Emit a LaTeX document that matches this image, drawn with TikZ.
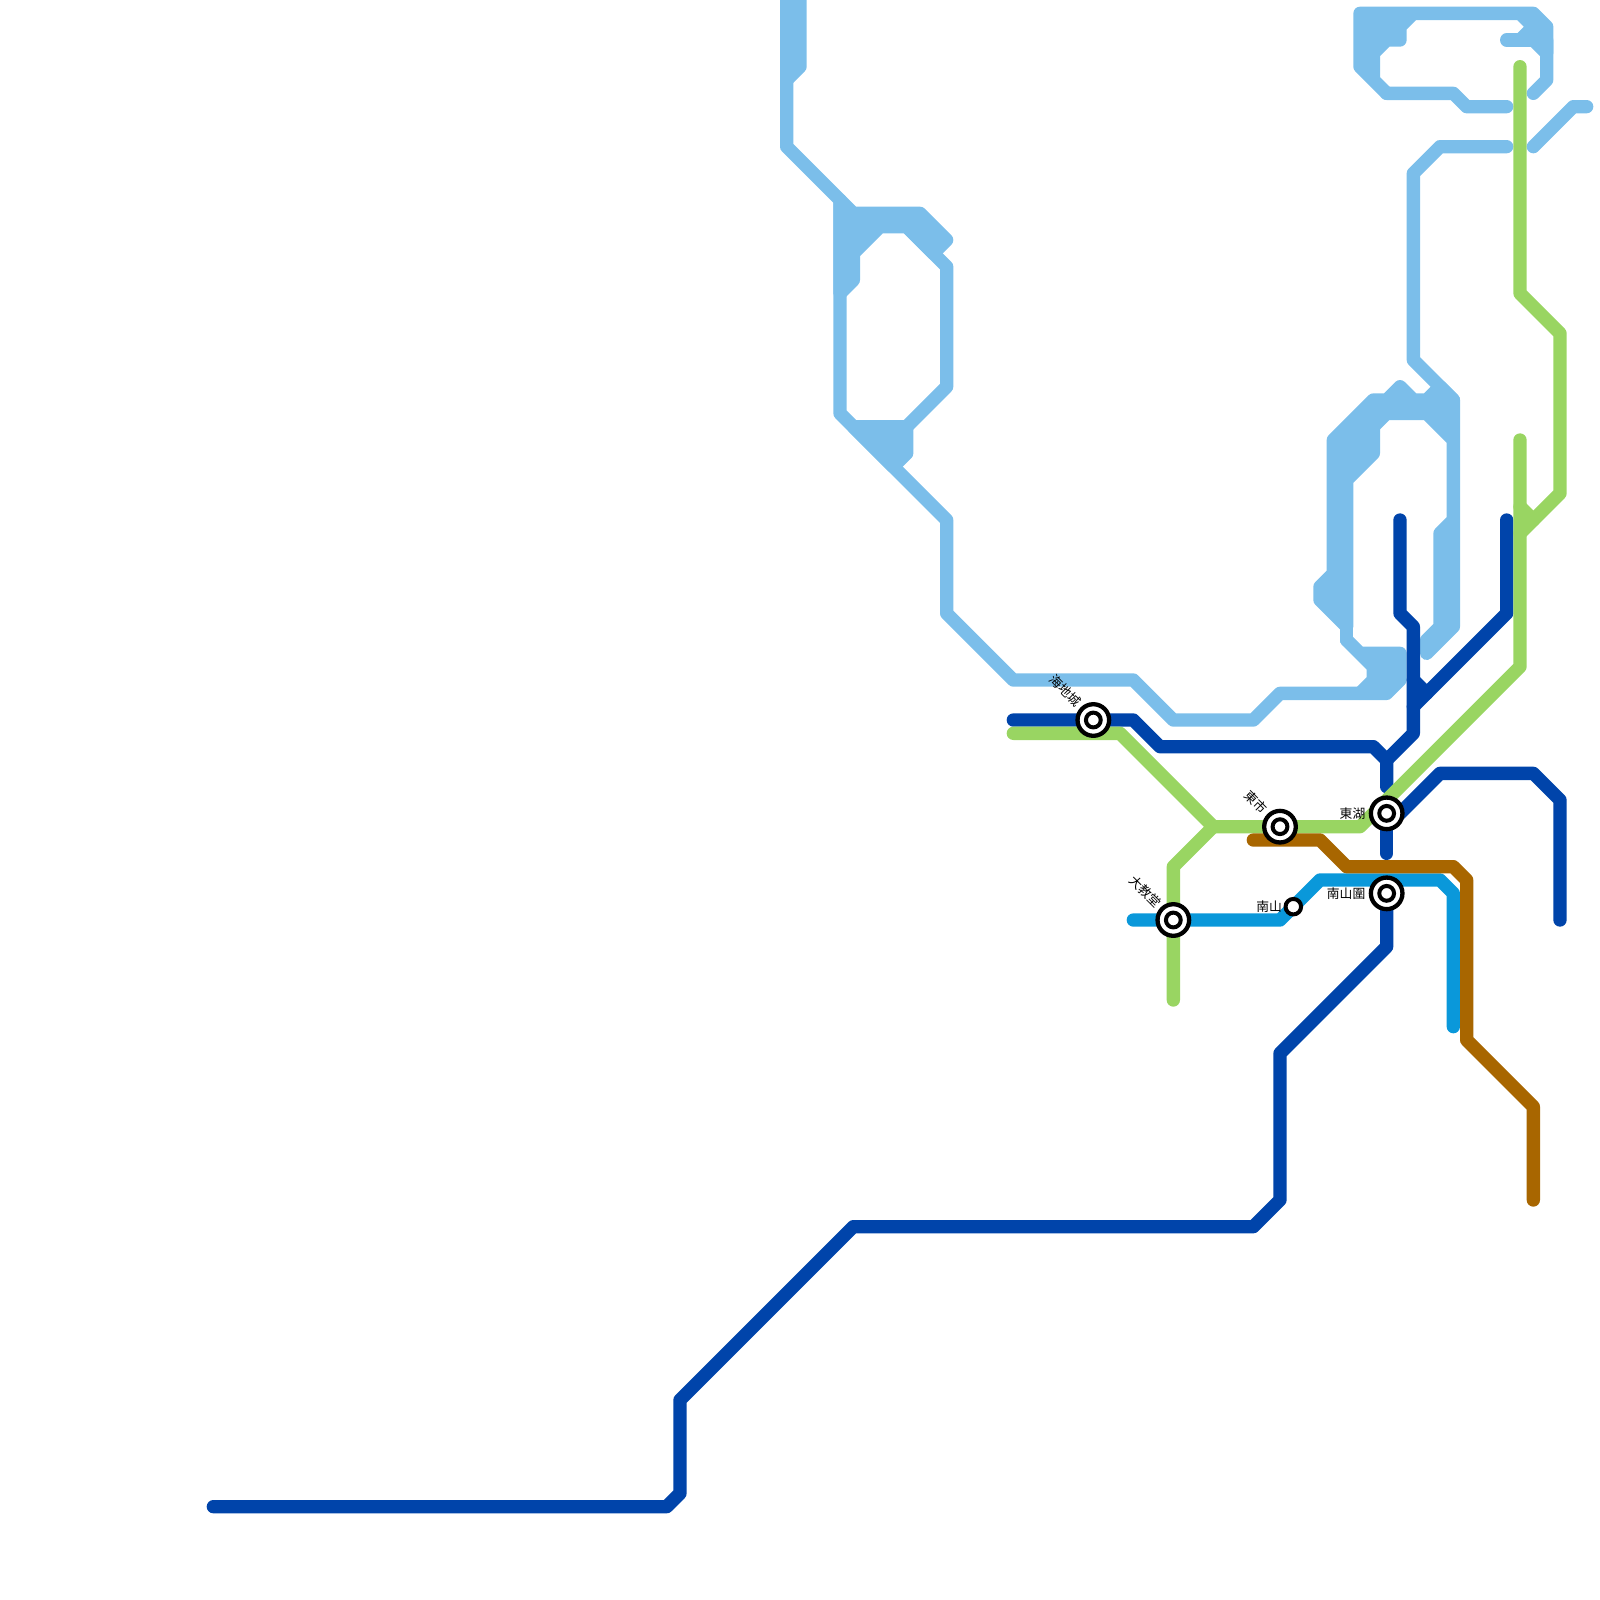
\documentclass[tikz,border=0pt]{standalone}
\usepackage{fontspec}
\newfontfamily\cjk{Noto Sans CJK TC}
\definecolor{lblue}{HTML}{7BBEEA}
\definecolor{dblue}{HTML}{0044AA}
\definecolor{lgreen}{HTML}{99D562}
\definecolor{cyanline}{HTML}{0A98DA}
\definecolor{brownline}{HTML}{A86600}
\tikzset{
 metro/.style={line width=0.13333cm,line cap=round,line join=round},
 lbline/.style={metro,draw=lblue},
 lbfat/.style={metro,draw=lblue,fill=lblue},
 dbline/.style={metro,draw=dblue},
 grline/.style={metro,draw=lgreen},
 cyline/.style={metro,draw=cyanline},
 brline/.style={metro,draw=brownline},
 outerring/.style={circle,draw=black,fill=white,line width=0.043cm,minimum size=0.316cm,inner sep=0pt},
 innerring/.style={circle,draw=black,fill=white,line width=0.04cm,minimum size=0.148cm,inner sep=0pt},
 smallstation/.style={circle,draw=black,fill=white,line width=0.04cm,minimum size=0.155cm,inner sep=0pt},
 lab/.style={font=\cjk\fontsize{3.64}{4.2}\selectfont,text=black,inner sep=0pt},
}
\begin{document}
\begin{tikzpicture}[x=0.133333cm,y=-0.133333cm]
\useasboundingbox (0,0) rectangle (120,120);
\coordinate (hai) at (82,54);
\coordinate (tc) at (96,62);
\coordinate (th) at (104,61);
\coordinate (nsy) at (104,67);
\coordinate (dj) at (88,69);
\coordinate (ns) at (97,68);
% light blue
\draw[lbfat] (59,-1) -- (60,-1) -- (60,5) -- (59,6) -- cycle;
\draw[lbline] (59,6) -- (59,11) -- (63,15) -- (63,31) -- (71,39) -- (71,46) -- (76,51) -- (85,51) -- (88,54) -- (94,54) -- (96,52) -- (102,52);
\draw[lbfat] (63,15) -- (64,16) -- (69,16) -- (71,18) -- (70,19) -- (68,17) -- (66,17) -- (64,19) -- (64,21) -- (63,22) -- cycle;
\draw[lbline] (68,17) -- (71,20) -- (71,29) -- (68,32);
\draw[lbfat] (64,32) -- (68,32) -- (68,34) -- (67,35) -- cycle;
\draw[lbline] (113,11) -- (108,11) -- (106,13) -- (106,27) -- (109,30);
\draw[lbfat] (100,33) -- (103,30) -- (104,30) -- (105,29) -- (106,30) -- (107,30) -- (108,29) -- (109,30) -- (109,47) -- (107,49) -- (107,48) -- (108,47) -- (108,40) -- (109,39) -- (109,33) -- (107,31) -- (104,31) -- (103,32) -- (103,34) -- (101,36) -- (101,47) -- (99,45) -- (99,44) -- (100,43) -- cycle;
\draw[lbline] (101,47) -- (101,48);
\draw[lbfat] (101,48) -- (103,50) -- (103,51) -- (102,52) -- (104,52) -- (105,51) -- (105,49) -- (102,49) -- cycle;
\draw[lbfat] (102,1) -- (115,1) -- (116,2) -- (116,4) -- (115,3) -- (114,3) -- (115,2) -- (114,1) -- (106,1) -- (105,2) -- (105,3) -- (104,3) -- (103,4) -- (103,6) -- (104,7) -- (102,5) -- cycle;
\draw[lbline] (104,7) -- (109,7) -- (110,8) -- (113,8);
\draw[lbline] (113,3) -- (115,3);
\draw[lbline] (116,3) -- (116,6) -- (115,7);
\draw[lbline] (115,11) -- (118,8) -- (119,8);
% dark blue
\draw[dbline] (16,113) -- (50,113) -- (51,112) -- (51,105) -- (64,92) -- (94,92) -- (96,90) -- (96,79) -- (104,71) -- (nsy);
\draw[dbline] (76,54) -- (hai) -- (85,54) -- (87,56) -- (103,56) -- (104,57) -- (104,59);
\draw[dbline] (105,39) -- (105,46) -- (106,47) -- (106,55) -- (104,57);
\draw[dbline] (113,39) -- (113,46) -- (106,53);
\draw[dbline] (106,51) -- (107,52);
\draw[dbline] (th) -- (104,64);
\draw[dbline] (104,62) -- (108,58) -- (115,58) -- (117,60) -- (117,69);
% green
\draw[grline] (76,55) -- (84,55) -- (91,62) -- (tc) -- (102,62) -- (114,50) -- (114,33);
\draw[grline] (114,5) -- (114,22) -- (117,25) -- (117,37) -- (114,40);
\draw[grline] (114,38) -- (115,39);
\draw[grline] (91,62) -- (88,65) -- (dj) -- (88,75);
% cyan
\draw[cyline] (85,69) -- (dj) -- (96,69) -- (99,66) -- (108,66) -- (109,67) -- (109,77);
% brown
\draw[brline] (94,63) -- (99,63) -- (101,65) -- (109,65) -- (110,66) -- (110,78) -- (115,83) -- (115,90);
% stations
\foreach \s/\n in {hai/a,tc/b,th/c,nsy/d,dj/e}{
 \node[outerring] (\n o) at (\s) {};
 \node[innerring] (\n i) at (\s) {};
}
\node[smallstation] (nss) at (ns) {};
% labels
\node[lab,anchor=east] (l1) at (102.45,61) {東湖};
\node[lab,anchor=east] (l2) at (102.45,67) {南山圍};
\node[lab,anchor=east] (l3) at (96.2,68) {南山};
\node[lab,rotate=-45] (l4) at (79.9,51.8) {海地城};
\node[lab,rotate=-45] (l5) at (94.2,60.15) {東市};
\node[lab,rotate=-45] (l6) at (85.9,66.9) {大教堂};
\end{tikzpicture}
\end{document}
